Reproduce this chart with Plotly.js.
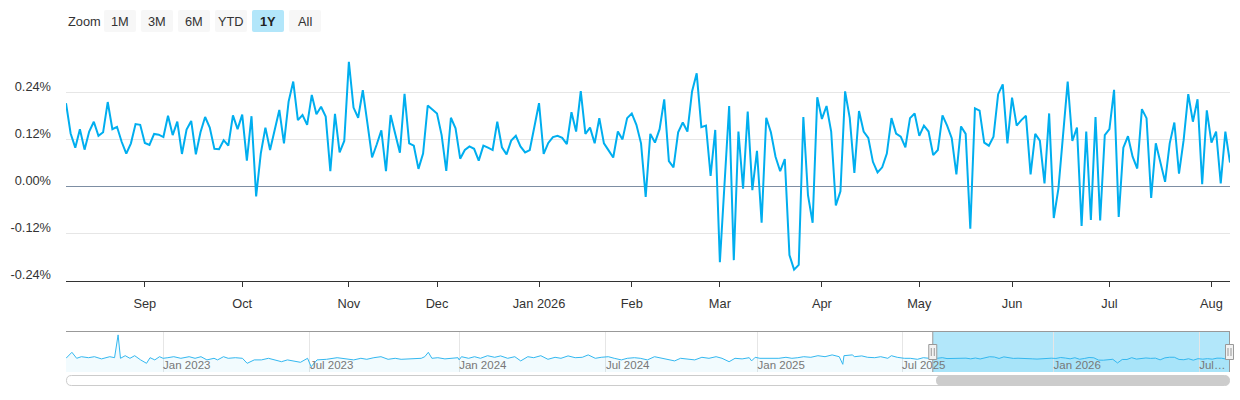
<!DOCTYPE html>
<html>
<head>
<meta charset="utf-8">
<script src="https://cdn.plot.ly/plotly-3.0.1.min.js"></script>
<style>
  html, body { margin: 0; padding: 0; background: #ffffff; }
  #chart { width: 1240px; height: 400px; }
</style>
</head>
<body>
<div id="chart"></div>
<script>
// ---------------- DATA ----------------
const startDate = '2025-08-07';

// Daily values (%), one per trading day from startDate
const values = [
  0.212,0.135,0.099,0.146,0.094,0.140,0.165,0.129,0.138,0.215,0.146,0.152,0.114,0.084,0.110,0.159,0.157,
  0.111,0.106,0.134,0.132,0.126,0.180,0.131,0.165,0.083,0.145,0.167,0.082,0.138,0.177,0.150,0.096,0.095,0.118,0.104,0.181,0.146,
  0.183,0.066,0.179,-0.025,0.084,0.150,0.093,0.144,0.195,0.110,0.216,0.267,0.169,0.182,0.157,0.233,0.184,0.203,0.178,0.039,0.185,0.087,0.116,
  0.317,0.201,0.175,0.245,0.161,0.074,0.107,0.143,0.039,0.182,0.134,0.086,0.236,0.110,0.104,0.045,0.084,0.206,0.196,
  0.186,0.131,0.040,0.175,0.148,0.071,0.093,0.102,0.096,0.066,0.104,0.099,0.093,0.165,0.100,0.082,0.117,0.129,0.102,0.087,0.093,0.152,
  0.212,0.083,0.111,0.126,0.129,0.124,0.108,0.189,0.140,0.243,0.134,0.150,0.110,0.174,0.110,0.092,0.074,0.140,0.120,0.174,
  0.186,0.157,0.110,-0.026,0.134,0.112,0.146,0.222,0.065,0.049,0.138,0.163,0.140,0.242,0.288,0.151,0.155,0.027,0.144,
  -0.192,0.003,0.205,-0.187,0.140,-0.005,0.191,-0.009,0.091,-0.092,0.175,0.138,0.076,0.039,0.070,-0.174,-0.211,-0.199,0.177,-0.022,-0.092,0.227,
  0.172,0.205,0.140,-0.048,-0.012,0.242,0.175,0.035,0.192,0.140,0.124,0.063,0.036,0.049,0.084,0.174,0.135,0.127,0.100,0.174,0.186,
  0.129,0.155,0.140,0.080,0.093,0.181,0.155,0.123,0.031,0.153,0.134,-0.107,0.199,0.193,0.112,0.104,0.127,0.235,0.260,0.110,
  0.226,0.155,0.169,0.180,0.031,0.134,0.117,0.008,0.186,-0.080,-0.005,0.131,0.267,0.116,0.150,-0.100,0.140,-0.085,0.177,-0.086,0.131,0.146,
  0.246,-0.077,0.099,0.128,0.076,0.046,0.197,0.174,-0.029,0.110,0.060,0.012,0.110,0.163,0.033,0.118,0.235,0.165,0.222,0.006,0.194,0.112,
  0.140,0.008,0.140,0.061
];

// Market holidays (no trading)
const holidays = [
  '2022-09-05','2022-11-24','2022-12-26',
  '2023-01-02','2023-01-16','2023-02-20','2023-04-07','2023-05-29','2023-06-19','2023-07-04','2023-09-04','2023-11-23','2023-12-25',
  '2024-01-01','2024-01-15','2024-02-19','2024-03-29','2024-05-27','2024-06-19','2024-07-04','2024-09-02','2024-11-28','2024-12-25',
  '2025-01-01','2025-01-09','2025-01-20','2025-02-17','2025-04-18','2025-05-26','2025-06-19','2025-07-04','2025-09-01','2025-11-27','2025-12-25',
  '2026-01-01','2026-01-19','2026-02-16','2026-04-03','2026-05-25','2026-06-19','2026-07-03'
];

// Main x-axis tick positions and labels
const monthTickDates = ['2025-09-02','2025-10-01','2025-11-03','2025-12-01','2026-01-02','2026-02-02','2026-03-02','2026-04-01','2026-05-01','2026-06-01','2026-07-01','2026-08-03'];
const monthTickLabels = ['Sep','Oct','Nov','Dec','Jan 2026','Feb','Mar','Apr','May','Jun','Jul','Aug'];

// Y-axis ticks
const yTickVals = [-0.24,-0.12,0,0.12,0.24,0.36];
const yTickLabels = ['-0.24%','-0.12%','0.00%','0.12%','0.24%',''];

// Navigator (earlier history, coarse reading)
const navDates = [
  '2022-09-06','2022-09-13','2022-09-19','2022-09-23','2022-10-03','2022-10-10','2022-10-18','2022-10-27','2022-11-02','2022-11-07',
  '2022-11-09','2022-11-15','2022-11-21','2022-11-28','2022-12-05','2022-12-12','2022-12-15','2022-12-21','2022-12-28',
  '2023-01-03','2023-01-09','2023-01-17','2023-01-25','2023-02-03','2023-02-10','2023-02-17','2023-02-27','2023-03-07','2023-03-10',
  '2023-03-17','2023-03-23','2023-03-31','2023-04-11','2023-04-17','2023-04-25','2023-05-03','2023-05-11','2023-05-19','2023-05-26',
  '2023-06-05','2023-06-13','2023-06-21','2023-06-29','2023-07-05','2023-07-12','2023-07-24','2023-08-04','2023-08-16','2023-08-24',
  '2023-09-01','2023-09-11','2023-09-19','2023-09-27','2023-10-05','2023-10-13','2023-10-20','2023-10-30','2023-11-07','2023-11-14',
  '2023-11-17','2023-11-22','2023-11-28','2023-12-05','2023-12-13','2023-12-21','2023-12-29',
  '2024-01-02','2024-01-04','2024-01-12','2024-01-22','2024-01-29','2024-02-06','2024-02-14','2024-02-22','2024-03-01','2024-03-11',
  '2024-03-18','2024-03-26','2024-04-03','2024-04-11','2024-04-19','2024-04-29','2024-05-06','2024-05-14','2024-05-22','2024-05-31',
  '2024-06-07','2024-06-17','2024-06-25','2024-07-03','2024-07-11','2024-07-19','2024-07-26','2024-08-05','2024-08-12','2024-08-20',
  '2024-08-28','2024-09-06','2024-09-13','2024-09-23','2024-09-30','2024-10-08','2024-10-16','2024-10-24','2024-11-01','2024-11-11',
  '2024-11-18','2024-11-26','2024-12-04','2024-12-12','2024-12-20','2024-12-24','2024-12-30',
  '2025-01-06','2025-01-13','2025-01-21','2025-01-30','2025-02-07','2025-02-14','2025-02-24','2025-03-03','2025-03-11','2025-03-19',
  '2025-03-27','2025-04-04','2025-04-14','2025-04-17','2025-04-21','2025-04-30','2025-05-02','2025-05-12','2025-05-19','2025-05-28',
  '2025-06-04','2025-06-12','2025-06-17','2025-06-25','2025-07-03','2025-07-11','2025-07-21','2025-07-28','2025-08-04'
];
const navValues = [
  0.13,0.43,0.13,0.21,0.16,0.21,0.10,0.21,0.16,1.30,
  0.13,0.26,0.13,0.26,0.05,-0.12,0.16,0.05,0.21,
  0.13,0.16,0.21,0.13,0.21,0.13,0.21,0.05,0.13,0.05,
  0.21,0.13,0.16,0.13,-0.12,0.05,0.05,0.13,0.05,-0.04,
  0.05,0.00,-0.07,0.13,-0.29,0.05,0.08,0.16,0.08,0.05,
  0.13,0.08,0.16,0.21,0.08,0.13,0.08,0.10,0.13,0.13,
  0.21,0.43,0.13,0.16,0.10,0.13,0.16,
  0.05,0.21,0.13,0.21,0.13,0.26,0.18,0.25,0.13,0.21,
  0.00,0.21,0.16,0.26,0.08,0.18,0.13,0.25,0.16,0.18,
  0.30,0.13,0.18,0.21,0.13,0.05,0.13,0.16,0.13,0.05,
  0.21,0.13,0.10,0.00,0.13,0.08,0.05,0.18,0.13,0.21,
  0.13,-0.04,0.13,0.10,0.16,0.00,0.18,
  0.13,0.13,0.16,0.13,0.18,0.13,0.16,0.21,0.18,0.26,
  0.21,0.30,0.21,-0.17,0.26,0.30,0.21,0.25,0.18,0.16,
  0.21,0.13,0.26,0.18,0.13,0.13,0.08,0.16,0.13
];
const navTickDates = ['2023-01-03','2023-07-03','2024-01-02','2024-07-01','2025-01-02','2025-07-01','2026-01-02','2026-07-01'];
const navTickLabels = ['Jan 2023','Jul 2023','Jan 2024','Jul 2024','Jan 2025','Jul 2025','Jan 2026','Jul…'];

const zoomButtons = ['1M','3M','6M','YTD','1Y','All'];
const selectedButton = '1Y';

// ---------------- BUILD ----------------
function tradingDays(start, n) {
  const out = [];
  const d = new Date(start + 'T00:00:00Z');
  while (out.length < n) {
    const dow = d.getUTCDay();
    const s = d.toISOString().slice(0, 10);
    if (dow !== 0 && dow !== 6 && holidays.indexOf(s) < 0) out.push(s);
    d.setUTCDate(d.getUTCDate() + 1);
  }
  return out;
}
const dates = tradingDays(startDate, values.length);
const endDate = dates[dates.length - 1];

// Navigator data grouping (average of consecutive points, as the navigator does)
const GROUP = 4;
const grpX = [], grpY = [];
for (let i = 0; i < values.length; i += GROUP) {
  const chunk = values.slice(i, i + GROUP);
  grpX.push(dates[i]);
  grpY.push(chunk.reduce((a, b) => a + b, 0) / chunk.length);
}
grpX.push(endDate); grpY.push(values[values.length - 1]);

const W = 1240, H = 400;
const PX = p => p / W;
const PY = p => 1 - p / H;
const L = 66, R = 1230;
const FONT = 'Liberation Sans, Arial, Helvetica, sans-serif';
const LINE = '#00aeef';

const NAV_MIN = -0.555, NAV_MAX = 1.495;
const breaks = [{ bounds: ['sat', 'mon'] }, { values: holidays }];

function rrect(x0, y0, x1, y1, r) {
  const p = (x, y) => PX(x).toFixed(6) + ',' + PY(y).toFixed(6);
  return 'M' + p(x0 + r, y0) + ' L' + p(x1 - r, y0) + ' Q' + p(x1, y0) + ' ' + p(x1, y0 + r) +
    ' L' + p(x1, y1 - r) + ' Q' + p(x1, y1) + ' ' + p(x1 - r, y1) +
    ' L' + p(x0 + r, y1) + ' Q' + p(x0, y1) + ' ' + p(x0, y1 - r) +
    ' L' + p(x0, y0 + r) + ' Q' + p(x0, y0) + ' ' + p(x0 + r, y0) + ' Z';
}

const navX = navDates.concat(grpX);
const navY = navValues.concat(grpY);

const traces = [
  {
    x: dates, y: values, type: 'scatter', mode: 'lines',
    line: { color: LINE, width: 2 }, xaxis: 'x', yaxis: 'y',
    hovertemplate: '%{x|%b %d, %Y}: %{y:.2f}%<extra></extra>'
  },
  {
    x: [navX[0], endDate], y: [NAV_MIN, NAV_MIN], type: 'scatter', mode: 'lines',
    line: { width: 0, color: 'rgba(0,0,0,0)' }, xaxis: 'x2', yaxis: 'y2', hoverinfo: 'skip'
  },
  {
    x: navX, y: navY, type: 'scatter', mode: 'lines',
    line: { color: '#33b8f0', width: 1 }, fill: 'tonexty', fillcolor: 'rgba(0,174,239,0.05)',
    xaxis: 'x2', yaxis: 'y2', hoverinfo: 'skip'
  }
];

const shapes = [];
const annotations = [];

// Range selector
annotations.push({
  xref: 'paper', yref: 'paper', x: PX(66), y: PY(21.5), xanchor: 'left', yanchor: 'middle',
  text: 'Zoom', showarrow: false, font: { family: FONT, size: 12.8, color: '#333333' }
});
zoomButtons.forEach((b, i) => {
  const x0 = 104 + i * 37, x1 = x0 + 32;
  const sel = b === selectedButton;
  shapes.push({
    type: 'path', xref: 'paper', yref: 'paper', path: rrect(x0, 10, x1, 32, 2),
    fillcolor: sel ? '#b2e6fa' : '#f7f7f7', line: { width: 0 }, layer: 'above'
  });
  annotations.push({
    xref: 'paper', yref: 'paper', x: PX((x0 + x1) / 2), y: PY(21.5), xanchor: 'center', yanchor: 'middle',
    text: sel ? '<b>' + b + '</b>' : b, showarrow: false,
    font: { family: FONT, size: 12.8, color: sel ? '#222222' : '#333333' }
  });
});

// Navigator mask (selected range)
shapes.push({
  type: 'rect', xref: 'x2', yref: 'paper', x0: startDate, x1: endDate, y0: PY(372), y1: PY(331),
  fillcolor: 'rgba(0,174,239,0.3)', line: { width: 0 }, layer: 'between'
});
// Navigator outline
shapes.push({
  type: 'line', xref: 'paper', yref: 'paper', x0: PX(L), x1: PX(R), y0: PY(331.5), y1: PY(331.5),
  line: { color: '#999999', width: 1 }, layer: 'above'
});
// Selection edges + handles: left edge from the axis date, right edge at the plot's right border
const edgeRefs = [
  { xref: 'x2', anchor: startDate },
  { xref: 'paper', anchor: PX(R) - 0.5 / W }
];
edgeRefs.forEach(e => {
  shapes.push({
    type: 'line', xref: e.xref, xsizemode: 'pixel', xanchor: e.anchor, x0: 0, x1: 0,
    yref: 'paper', y0: PY(372), y1: PY(331.5),
    line: { color: '#999999', width: 1 }, layer: 'above'
  });
  shapes.push({
    type: 'rect', xref: e.xref, xsizemode: 'pixel', xanchor: e.anchor, x0: -4, x1: 4,
    yref: 'paper', ysizemode: 'pixel', yanchor: PY(352), y0: -7.5, y1: 7.5,
    fillcolor: '#f2f2f2', line: { color: '#999999', width: 1 }, layer: 'above'
  });
  [-1.5, 1.5].forEach(o => {
    shapes.push({
      type: 'line', xref: e.xref, xsizemode: 'pixel', xanchor: e.anchor, x0: o, x1: o,
      yref: 'paper', ysizemode: 'pixel', yanchor: PY(352), y0: -4, y1: 4,
      line: { color: '#999999', width: 1 }, layer: 'above'
    });
  });
});

// Scrollbar
shapes.push({
  type: 'path', xref: 'paper', yref: 'paper', path: rrect(66.5, 375.5, 1229.5, 385.5, 5),
  fillcolor: '#ffffff', line: { color: '#cccccc', width: 1 }, layer: 'above'
});
shapes.push({
  type: 'path', xref: 'paper', yref: 'paper', path: rrect(936, 375.5, 1229.5, 385.5, 5),
  fillcolor: '#cccccc', line: { width: 0 }, layer: 'above'
});

const layout = {
  width: W, height: H,
  margin: { l: 0, r: 0, t: 0, b: 0, pad: 0 },
  paper_bgcolor: '#ffffff', plot_bgcolor: '#ffffff',
  showlegend: false,
  font: { family: FONT, size: 12.8, color: '#333333' },
  hovermode: 'closest',
  xaxis: {
    domain: [PX(L), PX(R)], anchor: 'y', type: 'date',
    range: [startDate, endDate], rangebreaks: breaks,
    tickmode: 'array', tickvals: monthTickDates, ticktext: monthTickLabels,
    ticks: 'outside', ticklen: 5, tickwidth: 1, tickcolor: '#333333',
    showline: true, linecolor: '#333333', linewidth: 1,
    showgrid: false, zeroline: false, fixedrange: true,
    ticklabelstandoff: 6,
    tickfont: { family: FONT, size: 12.8, color: '#333333' }
  },
  yaxis: {
    domain: [1 - 281 / H, 1 - 45 / H], anchor: 'x',
    range: [-0.24, 0.36],
    tickmode: 'array', tickvals: yTickVals, ticktext: yTickLabels,
    showgrid: true, gridcolor: '#e6e6e6', gridwidth: 1,
    zeroline: true, zerolinecolor: '#7d8ea3', zerolinewidth: 1,
    ticks: '', showline: false, fixedrange: true,
    ticklabelstandoff: 14, ticklabelshift: -6,
    tickfont: { family: FONT, size: 12.8, color: '#333333' }
  },
  xaxis2: {
    domain: [PX(L), PX(R)], anchor: 'y2', type: 'date',
    range: [navX[0], endDate], rangebreaks: breaks,
    tickmode: 'array', tickvals: navTickDates, ticktext: navTickLabels,
    ticks: '', showline: false, zeroline: false,
    showgrid: true, gridcolor: '#e6e6e6', gridwidth: 1,
    ticklabelposition: 'inside right', ticklabelstandoff: -5, fixedrange: true,
    tickfont: { family: FONT, size: 11.5, color: '#777777' }
  },
  yaxis2: {
    domain: [1 - 372 / H, 1 - 331 / H], anchor: 'x2',
    range: [NAV_MIN, NAV_MAX], visible: false, fixedrange: true
  },
  shapes: shapes,
  annotations: annotations
};

Plotly.newPlot('chart', traces, layout, { displayModeBar: false, responsive: false });
</script>
</body>
</html>
